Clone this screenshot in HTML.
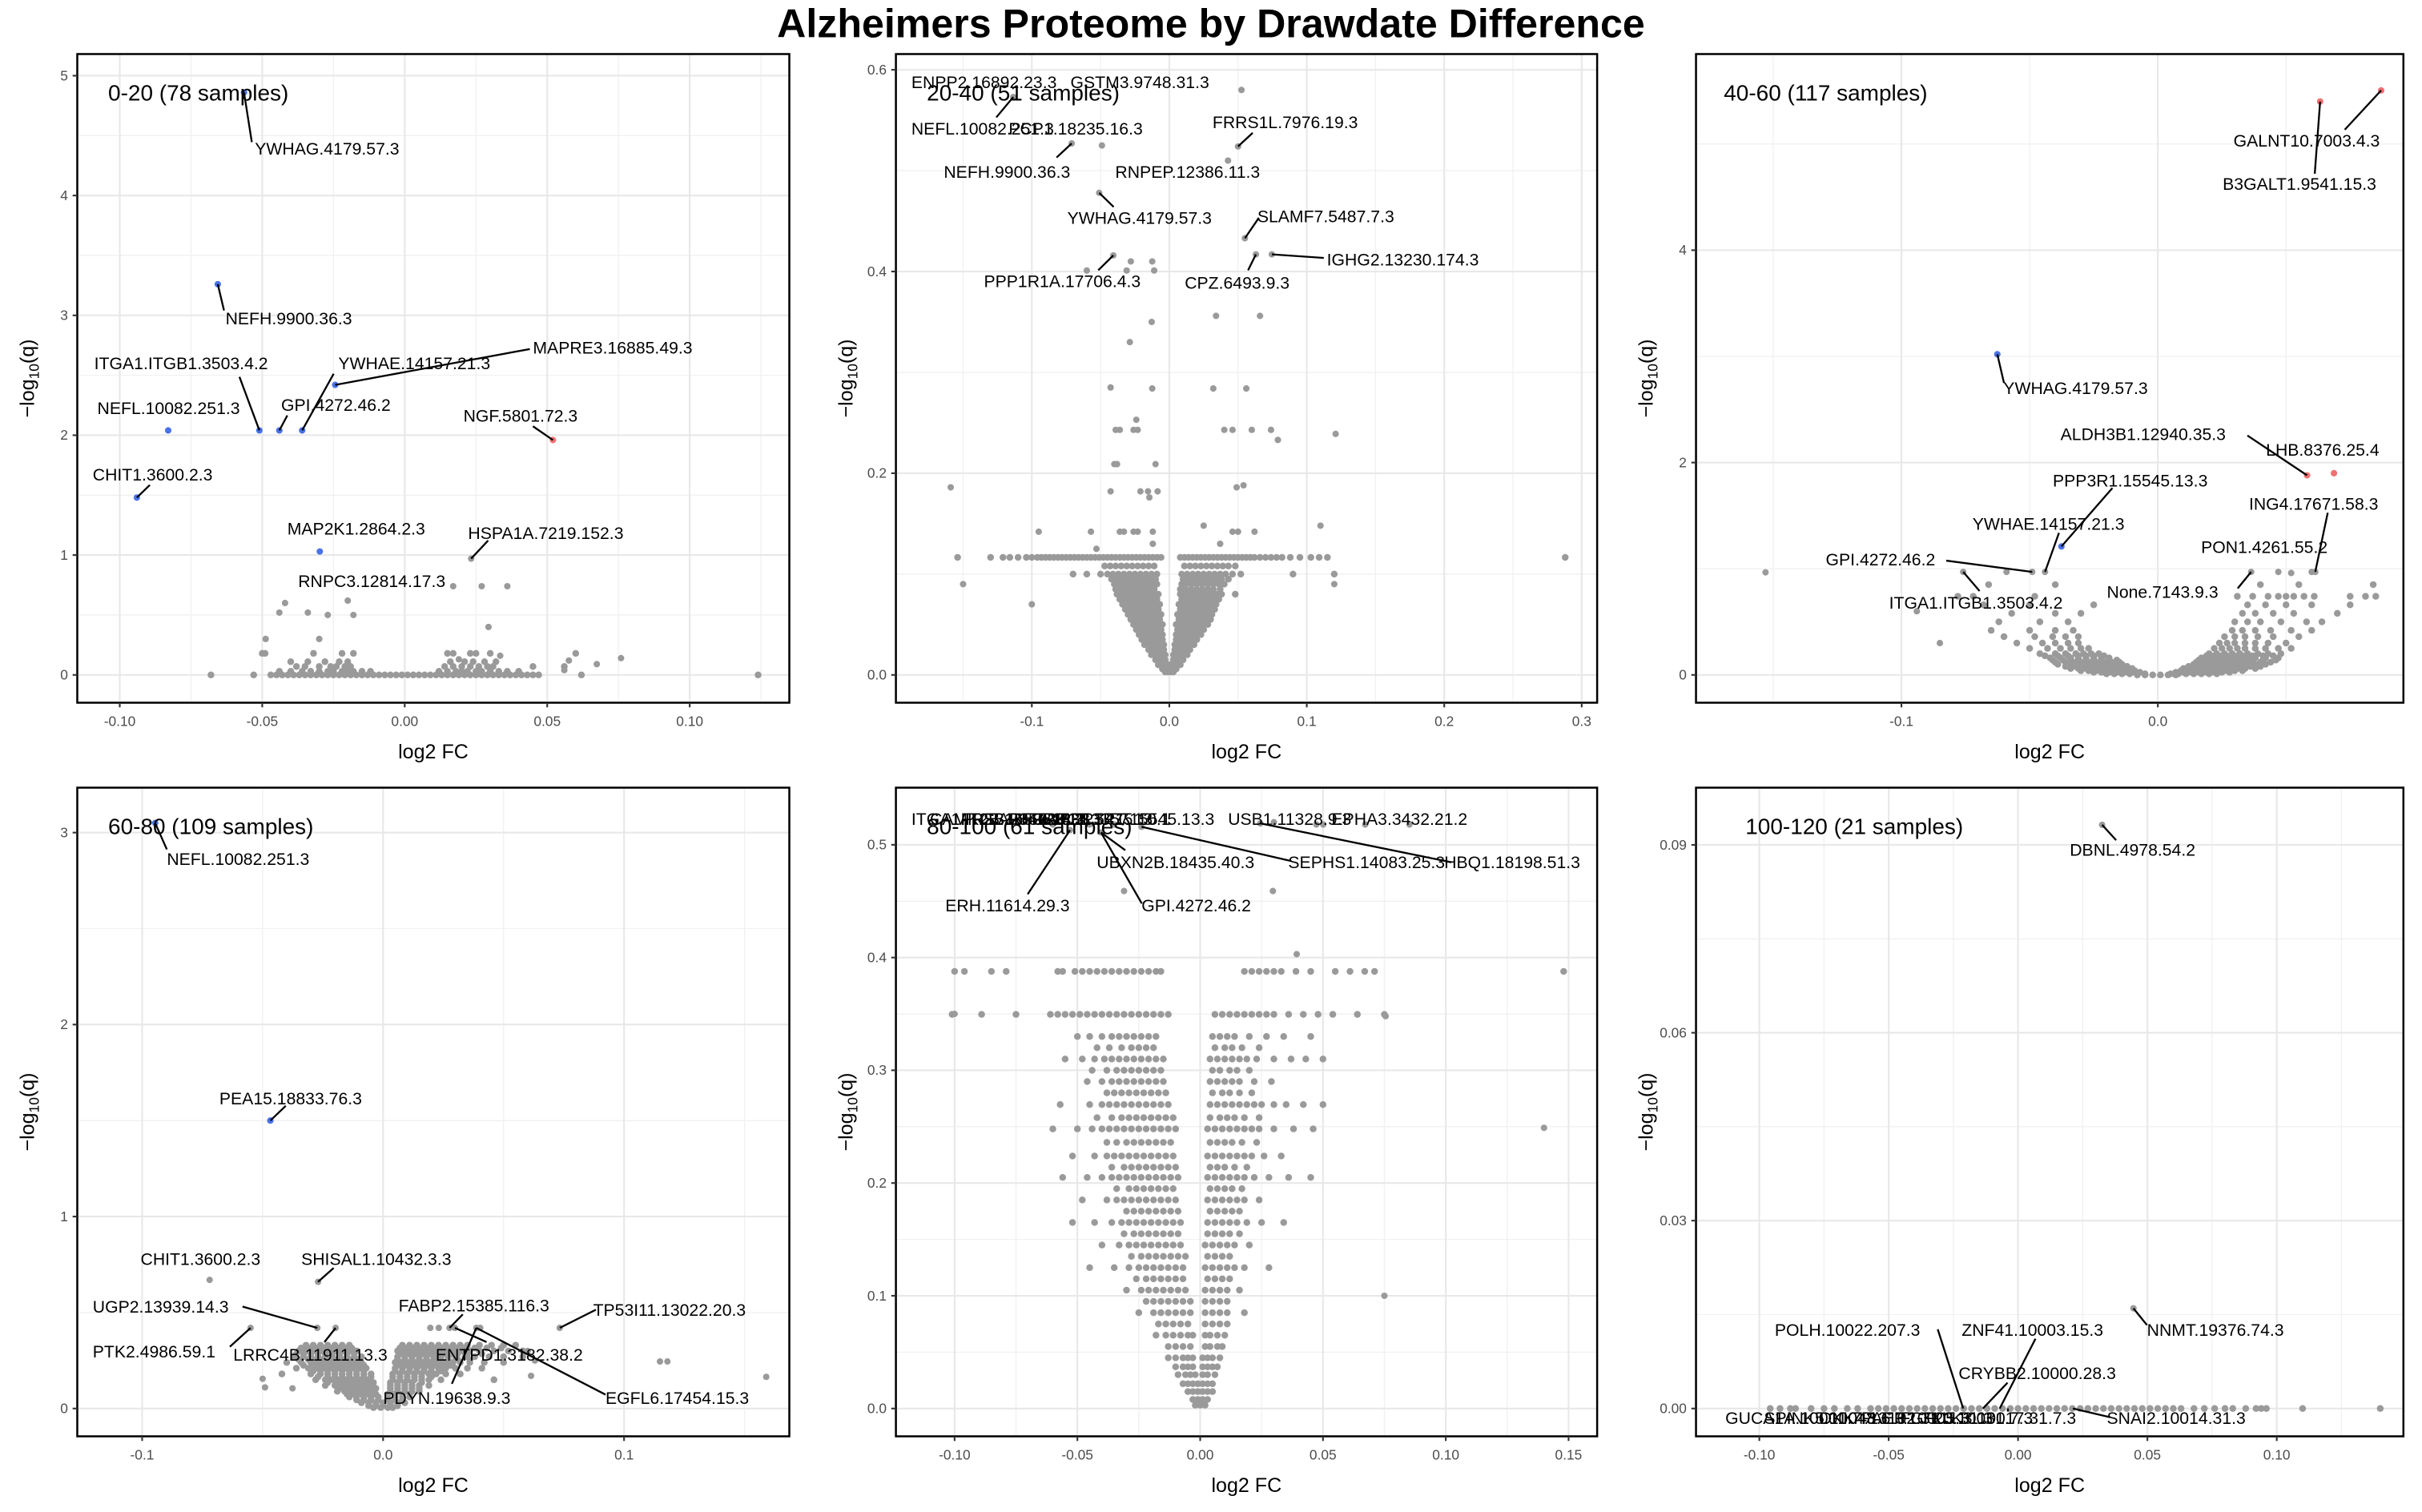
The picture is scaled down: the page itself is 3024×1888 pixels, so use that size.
<!DOCTYPE html>
<html><head><meta charset="utf-8"><title>Alzheimers Proteome by Drawdate Difference</title>
<style>
html,body{margin:0;padding:0;background:#fff;}
svg{display:block;font-family:"Liberation Sans",Arial,sans-serif;}
</style></head>
<body>
<svg id="chart" width="3024" height="1888" viewBox="0 0 1568 979" xmlns="http://www.w3.org/2000/svg">
<rect x="0" y="0" width="1568" height="979" fill="#fff"/>
<text x="784" y="24" text-anchor="middle" font-size="26" font-weight="bold" fill="#000">Alzheimers Proteome by Drawdate Difference</text>
</svg>
<script>
// ---------------- DATA ----------------
// Panel 1: 0-20
const p1Rows = [
[0,[-0.068,-0.053,-0.047,-0.045,-0.043,-0.041,-0.039,-0.037,-0.035,-0.033,-0.031,-0.029,-0.027,-0.025,-0.023,-0.021,-0.019,-0.017,-0.015,-0.013,-0.011,-0.009,-0.007,-0.005,-0.003,-0.001,0.001,0.003,0.005,0.007,0.009,0.011,0.013,0.015,0.017,0.019,0.021,0.023,0.025,0.027,0.029,0.031,0.033,0.035,0.037,0.039,0.041,0.043,0.045,0.047,0.062,0.124]],
[0.03,[-0.044,-0.04,-0.036,-0.033,-0.03,-0.027,-0.025,-0.022,-0.02,-0.018,-0.015,-0.012,0.012,0.015,0.018,0.02,0.022,0.025,0.027,0.03,0.033,0.036,0.04]],
[0.07,[-0.038,-0.035,-0.03,-0.026,-0.024,-0.021,-0.019,0.014,0.017,0.02,0.023,0.026,0.029,0.031,0.045,0.056]],
[0.11,[-0.04,-0.034,-0.028,-0.023,-0.02,0.016,0.021,0.024,0.028,0.032]],
[0.18,[-0.05,-0.049,-0.032,-0.022,-0.018,0.015,0.017,0.023,0.025,0.03,0.06]]
];
const p1Pts = [[-0.0488,0.3],[-0.03,0.3],[0.0294,0.4],[-0.044,0.52],[-0.034,0.52],[-0.027,0.5],[-0.018,0.5],[-0.042,0.6],[-0.02,0.62],[0.017,0.74],[0.027,0.74],[0.036,0.74],[0.0576,0.12],[0.0674,0.09],[0.0759,0.14],[0.0335,0.16],[0.019,0.13],[0.056,0.04],[0.0233,0.97]];
const p1Blue = [[-0.0564,4.86],[-0.0656,3.26],[-0.051,2.04],[-0.083,2.04],[-0.044,2.04],[-0.036,2.04],[-0.0244,2.42],[-0.094,1.48],[-0.0298,1.03]];
const p1Red = [[0.052,1.96]];
const p1Labels = [
["YWHAG.4179.57.3",165,96,163,92,-0.0564,4.86],
["NEFH.9900.36.3",146,206,145,201,-0.0656,3.26],
["ITGA1.ITGB1.3503.4.2",61,235,155,244,-0.051,2.04],
["NEFL.10082.251.3",63,264,null],
["GPI.4272.46.2",182,262,186,269,-0.044,2.04],
["YWHAE.14157.21.3",219,235,216,242,-0.036,2.04],
["MAPRE3.16885.49.3",345,225,343,226,-0.0244,2.42],
["NGF.5801.72.3",300,269,345,276,0.052,1.96],
["CHIT1.3600.2.3",60,307,97,314,-0.094,1.48],
["MAP2K1.2864.2.3",186,342,null],
["HSPA1A.7219.152.3",303,345,316,350,0.0233,0.97],
["RNPC3.12814.17.3",193,376,null]
];
const p1XTicks = [-0.1,-0.05,0,0.05,0.1];
const p1XLabels = ["-0.10","-0.05","0.00","0.05","0.10"];
const p1YTicks = [0,1,2,3,4,5];
const p1YLabels = ["0","1","2","3","4","5"];

// Panel 2: 20-40
const p2Rows = [
[0.1165,[-0.154,-0.13,-0.121,-0.116,-0.11,-0.104,-0.1,-0.096,-0.093,-0.09,-0.087,-0.084,-0.081,-0.078,-0.075,-0.072,-0.069,-0.066,-0.063,-0.06,-0.057,-0.054,-0.051,-0.048,-0.045,-0.042,-0.039,-0.036,-0.033,-0.03,-0.027,-0.024,-0.021,-0.018,-0.015,-0.012,-0.009,-0.006,0.008,0.011,0.014,0.017,0.02,0.023,0.026,0.029,0.032,0.035,0.038,0.041,0.044,0.047,0.05,0.053,0.056,0.059,0.062,0.066,0.07,0.074,0.078,0.082,0.088,0.095,0.103,0.109,0.115,0.288]],
[0.1,[-0.07,-0.06,-0.05,-0.045,-0.041,-0.037,-0.033,-0.029,-0.025,-0.021,-0.017,-0.013,-0.009,0.009,0.013,0.017,0.021,0.025,0.029,0.033,0.037,0.041,0.046,0.052,0.09,0.12]],
[0.108,[-0.047,-0.043,-0.039,-0.035,-0.031,-0.027,-0.023,-0.019,-0.015,-0.011,0.011,0.015,0.019,0.023,0.027,0.031,0.035,0.039,0.043,0.048]],
[0.095,[-0.042,-0.038,-0.034,-0.03,-0.026,-0.022,-0.018,-0.014,-0.01,0.01,0.014,0.018,0.022,0.026,0.03,0.034,0.038,0.043]],
[0.09,[-0.04,-0.036,-0.032,-0.028,-0.024,-0.02,-0.016,-0.012,-0.009,0.009,0.012,0.016,0.02,0.024,0.028,0.032,0.036,0.04]],
[0.085,[-0.039,-0.035,-0.031,-0.027,-0.023,-0.019,-0.015,-0.011,0.008,0.012,0.016,0.02,0.024,0.028,0.032,0.037]],
[0.08,[-0.038,-0.034,-0.03,-0.026,-0.022,-0.018,-0.014,-0.011,-0.008,0.008,0.011,0.014,0.018,0.022,0.026,0.03,0.034,0.038,0.048]],
[0.075,[-0.036,-0.032,-0.028,-0.024,-0.02,-0.016,-0.012,-0.009,0.009,0.012,0.016,0.02,0.024,0.028,0.032,0.036]],
[0.07,[-0.034,-0.03,-0.026,-0.022,-0.019,-0.016,-0.013,-0.01,-0.007,0.007,0.01,0.013,0.016,0.019,0.022,0.026,0.03,0.034]],
[0.065,[-0.032,-0.028,-0.024,-0.02,-0.017,-0.014,-0.011,-0.008,0.008,0.011,0.014,0.017,0.021,0.025,0.029,0.033]],
[0.06,[-0.03,-0.026,-0.023,-0.02,-0.017,-0.014,-0.011,-0.008,-0.006,0.006,0.008,0.011,0.014,0.017,0.02,0.023,0.027,0.031]],
[0.055,[-0.028,-0.024,-0.021,-0.018,-0.015,-0.012,-0.009,-0.007,0.007,0.01,0.013,0.016,0.019,0.022,0.026,0.03]],
[0.05,[-0.026,-0.023,-0.02,-0.017,-0.014,-0.011,-0.008,-0.005,0.005,0.008,0.011,0.014,0.017,0.02,0.024,0.028]],
[0.045,[-0.024,-0.021,-0.018,-0.015,-0.012,-0.009,-0.006,0.006,0.009,0.012,0.015,0.018,0.021,0.025]],
[0.04,[-0.022,-0.019,-0.016,-0.013,-0.01,-0.007,-0.005,0.005,0.007,0.01,0.013,0.016,0.019,0.023]],
[0.035,[-0.02,-0.017,-0.014,-0.011,-0.008,-0.005,0.005,0.008,0.011,0.014,0.017,0.02]],
[0.03,[-0.018,-0.015,-0.012,-0.009,-0.007,-0.004,0.004,0.007,0.009,0.012,0.015,0.018]],
[0.025,[-0.015,-0.012,-0.009,-0.006,-0.004,0.004,0.006,0.009,0.012,0.015]],
[0.02,[-0.013,-0.01,-0.008,-0.005,-0.003,0.003,0.005,0.008,0.01,0.013]],
[0.015,[-0.01,-0.007,-0.005,-0.003,0.003,0.005,0.007,0.01]],
[0.01,[-0.008,-0.006,-0.004,-0.002,0,0.002,0.004,0.006,0.008]],
[0.006,[-0.005,-0.003,-0.001,0.001,0.003,0.005]],
[0.003,[-0.003,-0.001,0.001,0.003]]
];
const p2Pts = [[-0.15,0.09],[-0.1,0.07],[0.12,0.09],[-0.095,0.142],[-0.057,0.142],[-0.036,0.142],[-0.033,0.142],[-0.026,0.142],[-0.023,0.142],[-0.012,0.142],[-0.012,0.13],[0.025,0.148],[0.037,0.13],[0.046,0.142],[0.05,0.142],[0.062,0.142],[0.11,0.148],[-0.053,0.125],
[-0.159,0.186],[-0.0427,0.182],[-0.021,0.182],[-0.0155,0.182],[-0.0085,0.182],[-0.0145,0.176],[0.049,0.186],[0.054,0.188],
[-0.04,0.209],[-0.038,0.209],[-0.01,0.209],[-0.039,0.243],[-0.036,0.243],[-0.026,0.243],[-0.023,0.243],[-0.024,0.253],[0.04,0.243],[0.046,0.243],[0.06,0.243],[0.074,0.243],[0.079,0.233],[0.121,0.239],
[-0.0427,0.285],[-0.0124,0.284],[0.032,0.284],[0.056,0.284],[-0.0287,0.33],[-0.0128,0.35],[0.034,0.356],[0.066,0.356],
[-0.028,0.41],[-0.0124,0.41],[-0.06,0.401],[-0.031,0.401],[-0.011,0.401],[-0.0407,0.416],[0.063,0.417],[0.0746,0.417],[0.055,0.433],
[-0.051,0.478],[0.0427,0.51],[-0.071,0.527],[-0.049,0.525],[0.05,0.524],[0.0525,0.58],[-0.1135,0.573]];
const p2Labels = [
["ENPP2.16892.23.3",590,53,null],
["GSTM3.9748.31.3",693,53,null],
["NEFL.10082.251.3",590,83,645,76,-0.1135,0.573],
["PCP1.18235.16.3",653,83,null],
["NEFH.9900.36.3",611,111,684,102,-0.071,0.527],
["FRRS1L.7976.19.3",785,79,811,86,0.05,0.524],
["RNPEP.12386.11.3",722,111,null],
["YWHAG.4179.57.3",691,141,721,134,-0.051,0.478],
["SLAMF7.5487.7.3",814,140,815,141,0.055,0.433],
["IGHG2.13230.174.3",859,168,857,167,0.0746,0.417],
["CPZ.6493.9.3",767,183,808,175,0.063,0.417],
["PPP1R1A.17706.4.3",637,182,711,175,-0.0407,0.416]
];
const p2XTicks = [-0.1,0,0.1,0.2,0.3];
const p2XLabels = ["-0.1","0.0","0.1","0.2","0.3"];
const p2YTicks = [0,0.2,0.4,0.6];
const p2YLabels = ["0.0","0.2","0.4","0.6"];

// Panel 3: 40-60
const p3Rows = [
[0,[-0.008,-0.005,-0.002,0.001,0.004,0.007]],
[0.01,[-0.02,-0.017,-0.014,-0.011,-0.008,-0.005,0.005,0.008,0.011,0.014,0.017,0.02,0.023]],
[0.025,[-0.025,-0.022,-0.019,-0.016,-0.013,-0.01,-0.007,0.007,0.01,0.013,0.016,0.019,0.022,0.025,0.028]],
[0.04,[-0.03,-0.027,-0.024,-0.021,-0.018,-0.015,-0.012,-0.009,0.009,0.012,0.015,0.018,0.021,0.024,0.027,0.03,0.033]],
[0.06,[-0.034,-0.031,-0.028,-0.025,-0.022,-0.019,-0.016,-0.013,-0.01,0.01,0.013,0.016,0.019,0.022,0.025,0.028,0.031,0.034,0.038]],
[0.08,[-0.036,-0.033,-0.03,-0.027,-0.024,-0.021,-0.018,-0.015,-0.012,0.012,0.015,0.018,0.021,0.024,0.027,0.03,0.033,0.036,0.04]],
[0.1,[-0.039,-0.035,-0.032,-0.029,-0.026,-0.023,-0.02,-0.017,-0.014,0.014,0.017,0.02,0.023,0.026,0.029,0.032,0.035,0.038,0.042]],
[0.12,[-0.04,-0.036,-0.033,-0.03,-0.027,-0.024,-0.021,-0.018,-0.015,0.015,0.018,0.021,0.024,0.027,0.03,0.033,0.036,0.04,0.044]],
[0.14,[-0.041,-0.037,-0.034,-0.031,-0.028,-0.025,-0.022,-0.019,-0.016,0.016,0.019,0.022,0.025,0.028,0.031,0.034,0.037,0.041,0.046]],
[0.16,[-0.042,-0.038,-0.034,-0.031,-0.028,-0.025,-0.022,-0.019,0.017,0.02,0.023,0.026,0.029,0.032,0.035,0.038,0.042,0.047]],
[0.18,[-0.044,-0.039,-0.035,-0.031,-0.028,-0.025,-0.021,0.019,0.022,0.025,0.028,0.031,0.034,0.037,0.041,0.045]],
[0.2,[-0.046,-0.04,-0.036,-0.032,-0.029,-0.026,-0.023,0.02,0.023,0.026,0.029,0.032,0.035,0.039,0.043,0.048]],
[0.25,[-0.05,-0.043,-0.038,-0.034,-0.03,-0.027,0.022,0.025,0.028,0.031,0.034,0.038,0.042,0.047,0.052]],
[0.3,[-0.055,-0.045,-0.04,-0.035,-0.031,0.024,0.027,0.03,0.034,0.038,0.043,0.05]],
[0.36,[-0.06,-0.048,-0.041,-0.036,-0.031,0.026,0.03,0.034,0.039,0.045,0.055]],
[0.42,[-0.065,-0.05,-0.04,-0.033,0.029,0.033,0.038,0.044,0.052,0.06]],
[0.5,[-0.062,-0.046,-0.035,0.03,0.035,0.04,0.048,0.058,0.064]],
[0.58,[-0.057,-0.04,-0.03,0.033,0.038,0.045,0.053,0.07]],
[0.66,[-0.068,-0.05,-0.025,0.035,0.042,0.05,0.06,0.075]],
[0.74,[-0.078,-0.072,-0.048,0.031,0.037,0.043,0.047,0.05,0.053,0.057,0.061,0.075,0.081,0.085]],
[0.85,[-0.066,-0.04,0.04,0.055,0.084]]
];
const p3Pts = [[-0.153,0.966],[-0.059,0.97],[0.047,0.97],[0.052,0.96],[0.06,0.97],[-0.049,0.97],[-0.044,0.97],[-0.0759,0.97],[0.0614,0.97],[0.0364,0.97],[-0.094,0.6],[-0.085,0.3]];
const p3Blue = [[-0.0626,3.02],[-0.0376,1.21]];
const p3Red = [[0.0871,5.505],[0.0633,5.4],[0.0582,1.88],[0.0687,1.9]];
const p3Labels = [
["GALNT10.7003.4.3",1446,91,1518,84,0.0871,5.505],
["B3GALT1.9541.15.3",1439,119,1498.6,112.5,0.0633,5.4],
["YWHAG.4179.57.3",1297,251,1297.4,248,-0.0626,3.02],
["ALDH3B1.12940.35.3",1334,281,1455,282,0.0582,1.88],
["LHB.8376.25.4",1467,291,null],
["PPP3R1.15545.13.3",1329,311,1367.6,316,-0.0376,1.21],
["ING4.17671.58.3",1456,326,1507,332,0.0614,0.97],
["YWHAE.14157.21.3",1277,339,1333,345,-0.044,0.97],
["PON1.4261.55.2",1425,354,null],
["GPI.4272.46.2",1182,362,1260,363,-0.049,0.97],
["None.7143.9.3",1364,383,1448.7,381,0.0364,0.97],
["ITGA1.ITGB1.3503.4.2",1223,390,1281.6,382.7,-0.0759,0.97]
];
const p3XTicks = [-0.1,0];
const p3XLabels = ["-0.1","0.0"];
const p3YTicks = [0,2,4];
const p3YLabels = ["0","2","4"];

// Panel 4: 60-80
const p4Rows = [
[0.33,[-0.032,-0.029,-0.026,-0.023,-0.02,-0.017,-0.014,0.008,0.011,0.014,0.017,0.02,0.023,0.026,0.029,0.032,0.035,0.04,0.045,0.05,0.055]],
[0.315,[-0.034,-0.031,-0.028,-0.025,-0.022,-0.019,-0.016,-0.013,0.007,0.01,0.013,0.016,0.019,0.022,0.025,0.028,0.031,0.034,0.038,0.043,0.049]],
[0.3,[-0.035,-0.032,-0.029,-0.026,-0.023,-0.02,-0.017,-0.014,-0.011,0.006,0.009,0.012,0.015,0.018,0.021,0.024,0.027,0.03,0.033,0.036,0.04,0.046,0.052,0.058]],
[0.285,[-0.036,-0.033,-0.03,-0.027,-0.024,-0.021,-0.018,-0.015,-0.012,0.007,0.01,0.013,0.016,0.019,0.022,0.025,0.028,0.031,0.035,0.041]],
[0.27,[-0.037,-0.033,-0.03,-0.027,-0.024,-0.021,-0.018,-0.015,-0.012,-0.009,0.006,0.009,0.012,0.015,0.018,0.021,0.024,0.027,0.03,0.034,0.038,0.044,0.05,0.058]],
[0.255,[-0.035,-0.031,-0.028,-0.025,-0.022,-0.019,-0.016,-0.013,-0.01,0.006,0.009,0.012,0.015,0.018,0.021,0.024,0.027,0.031,0.036]],
[0.24,[-0.04,-0.034,-0.03,-0.027,-0.024,-0.021,-0.018,-0.015,-0.012,-0.009,0.005,0.008,0.011,0.014,0.017,0.02,0.023,0.026,0.029,0.032,0.036,0.042,0.05]],
[0.225,[-0.033,-0.029,-0.026,-0.023,-0.02,-0.017,-0.014,-0.011,-0.008,0.006,0.009,0.012,0.015,0.018,0.021,0.024,0.028]],
[0.21,[-0.036,-0.031,-0.028,-0.025,-0.022,-0.019,-0.016,-0.013,-0.01,-0.007,0.005,0.008,0.011,0.014,0.017,0.02,0.023,0.026,0.03,0.035,0.041]],
[0.195,[-0.029,-0.026,-0.023,-0.02,-0.017,-0.014,-0.011,-0.008,0.005,0.008,0.011,0.014,0.017,0.02,0.024]],
[0.18,[-0.042,-0.03,-0.026,-0.023,-0.02,-0.017,-0.014,-0.011,-0.008,-0.005,0.004,0.007,0.01,0.013,0.016,0.019,0.022,0.026,0.032]],
[0.165,[-0.027,-0.023,-0.02,-0.017,-0.014,-0.011,-0.008,-0.005,0.004,0.007,0.01,0.013,0.016,0.02]],
[0.15,[-0.028,-0.024,-0.021,-0.018,-0.015,-0.012,-0.009,-0.006,0.004,0.007,0.01,0.013,0.016,0.019,0.024,0.046]],
[0.135,[-0.023,-0.019,-0.016,-0.013,-0.01,-0.007,-0.004,0.003,0.006,0.009,0.012,0.016]],
[0.12,[-0.024,-0.02,-0.017,-0.014,-0.011,-0.008,-0.005,0.003,0.006,0.009,0.012,0.015,0.019]],
[0.105,[-0.018,-0.015,-0.012,-0.009,-0.006,-0.003,0.003,0.006,0.009,0.012,0.015]],
[0.09,[-0.019,-0.016,-0.013,-0.01,-0.007,-0.004,0.003,0.006,0.009,0.012,0.015]],
[0.075,[-0.015,-0.012,-0.009,-0.006,-0.003,0.002,0.005,0.008,0.011]],
[0.06,[-0.014,-0.011,-0.008,-0.005,-0.002,0.002,0.005,0.008,0.011]],
[0.045,[-0.011,-0.008,-0.005,-0.002,0.002,0.005,0.008]],
[0.03,[-0.009,-0.006,-0.003,0,0.003,0.006,0.009]],
[0.015,[-0.006,-0.003,0,0.003,0.006]],
[0.005,[-0.004,-0.001,0.002,0.004]]
];
const p4Pts = [[-0.05,0.155],[-0.049,0.11],[-0.0376,0.105],[0.159,0.165],[0.1149,0.245],[0.118,0.245],[0.0614,0.17],[0.046,0.15],[-0.072,0.67],[-0.027,0.66],[-0.0273,0.42],[-0.0197,0.42],[-0.055,0.42],[0.0276,0.42],[0.0733,0.42],[0.0387,0.42],[0.0196,0.42],[0.0231,0.42],[0.0298,0.42],[0.0403,0.42],[0.063,0.25],[0.06,0.3]];
const p4Blue = [[-0.0946,3.05],[-0.0468,1.5]];
const p4Labels = [
["NEFL.10082.251.3",108,556,108,550,-0.0946,3.05],
["PEA15.18833.76.3",142,711,185,716,-0.0468,1.5],
["CHIT1.3600.2.3",91,815,null],
["SHISAL1.10432.3.3",195,815,216,821,-0.027,0.66],
["UGP2.13939.14.3",60,846,157,846,-0.0273,0.42],
["FABP2.15385.116.3",258,845,299.6,851,0.0276,0.42],
["TP53I11.13022.20.3",384,848,385.8,848,0.0733,0.42],
["PTK2.4986.59.1",60,875,148.8,872,-0.055,0.42],
["LRRC4B.11911.13.3",151,877,210,869,-0.0197,0.42],
["ENTPD1.3182.38.2",282,877,315,869,0.0298,0.42],
["PDYN.19638.9.3",248,905,292.5,896,0.0387,0.42],
["EGFL6.17454.15.3",392,905,392,903,0.0387,0.42]
];
const p4XTicks = [-0.1,0,0.1];
const p4XLabels = ["-0.1","0.0","0.1"];
const p4YTicks = [0,1,2,3];
const p4YLabels = ["0","1","2","3"];

// Panel 5: 80-100
const p5Rows = [
[0.3877,[-0.1,-0.096,-0.085,-0.079,-0.058,-0.056,-0.051,-0.048,-0.045,-0.042,-0.039,-0.036,-0.033,-0.03,-0.027,-0.024,-0.021,-0.018,-0.016,0.018,0.021,0.024,0.027,0.03,0.033,0.039,0.045,0.055,0.061,0.067,0.071,0.148]],
[0.3496,[-0.101,-0.089,-0.075,-0.061,-0.058,-0.055,-0.052,-0.049,-0.046,-0.043,-0.04,-0.037,-0.034,-0.031,-0.028,-0.025,-0.022,-0.019,-0.016,-0.013,0.006,0.009,0.012,0.015,0.018,0.021,0.024,0.027,0.03,0.036,0.042,0.048,0.054,0.064,0.075]],
[0.33,[-0.05,-0.045,-0.04,-0.036,-0.033,-0.03,-0.027,-0.024,-0.021,-0.018,0.005,0.008,0.011,0.014,0.02,0.027,0.034,0.045]],
[0.32,[-0.042,-0.037,-0.032,-0.028,-0.025,-0.022,-0.019,0.006,0.01,0.013,0.017,0.024]],
[0.31,[-0.055,-0.048,-0.043,-0.039,-0.036,-0.033,-0.03,-0.027,-0.024,-0.021,-0.018,-0.015,0.004,0.007,0.01,0.013,0.016,0.019,0.023,0.03,0.037,0.043,0.05]],
[0.3,[-0.044,-0.038,-0.034,-0.031,-0.028,-0.025,-0.022,-0.019,-0.016,0.005,0.008,0.012,0.015,0.02]],
[0.29,[-0.046,-0.04,-0.036,-0.033,-0.03,-0.027,-0.024,-0.021,-0.018,-0.015,0.004,0.007,0.01,0.013,0.016,0.022,0.029]],
[0.28,[-0.038,-0.035,-0.032,-0.029,-0.026,-0.023,-0.02,-0.017,-0.014,0.005,0.009,0.012,0.016,0.021]],
[0.2696,[-0.057,-0.045,-0.04,-0.037,-0.034,-0.031,-0.028,-0.025,-0.022,-0.019,-0.016,-0.013,0.004,0.007,0.01,0.013,0.016,0.019,0.022,0.025,0.03,0.035,0.042,0.05]],
[0.258,[-0.042,-0.036,-0.032,-0.029,-0.026,-0.023,-0.02,-0.017,-0.014,-0.011,0.004,0.008,0.011,0.014,0.018,0.024]],
[0.248,[-0.06,-0.05,-0.044,-0.04,-0.037,-0.034,-0.031,-0.028,-0.025,-0.022,-0.019,-0.016,-0.013,-0.01,0.003,0.006,0.009,0.012,0.015,0.018,0.021,0.024,0.03,0.038,0.046]],
[0.236,[-0.038,-0.034,-0.03,-0.027,-0.024,-0.021,-0.018,-0.015,-0.012,0.004,0.007,0.01,0.013,0.017,0.023]],
[0.224,[-0.052,-0.043,-0.038,-0.035,-0.032,-0.029,-0.026,-0.023,-0.02,-0.017,-0.014,-0.011,0.003,0.006,0.009,0.012,0.015,0.018,0.021,0.026,0.033]],
[0.214,[-0.036,-0.031,-0.028,-0.025,-0.022,-0.019,-0.016,-0.013,-0.01,0.004,0.007,0.01,0.014,0.019]],
[0.205,[-0.056,-0.046,-0.04,-0.036,-0.033,-0.03,-0.027,-0.024,-0.021,-0.018,-0.015,-0.012,-0.009,0.003,0.006,0.009,0.012,0.015,0.018,0.022,0.028,0.036,0.045]],
[0.195,[-0.034,-0.029,-0.026,-0.023,-0.02,-0.017,-0.014,-0.011,0.004,0.007,0.01,0.013,0.017]],
[0.185,[-0.048,-0.038,-0.034,-0.031,-0.028,-0.025,-0.022,-0.019,-0.016,-0.013,-0.01,0.003,0.006,0.009,0.012,0.015,0.018,0.024]],
[0.175,[-0.03,-0.027,-0.024,-0.021,-0.018,-0.015,-0.012,-0.009,0.004,0.007,0.01,0.013,0.016]],
[0.165,[-0.052,-0.043,-0.036,-0.032,-0.029,-0.026,-0.023,-0.02,-0.017,-0.014,-0.011,-0.008,0.003,0.006,0.009,0.012,0.015,0.019,0.025,0.034]],
[0.155,[-0.031,-0.027,-0.024,-0.021,-0.018,-0.015,-0.012,-0.009,0.003,0.006,0.009,0.012,0.016]],
[0.145,[-0.04,-0.033,-0.029,-0.026,-0.023,-0.02,-0.017,-0.014,-0.011,-0.008,0.002,0.005,0.008,0.011,0.014,0.02]],
[0.135,[-0.028,-0.024,-0.021,-0.018,-0.015,-0.012,-0.009,-0.006,0.003,0.006,0.009,0.012]],
[0.125,[-0.045,-0.035,-0.029,-0.025,-0.022,-0.019,-0.016,-0.013,-0.01,-0.007,0.002,0.005,0.008,0.011,0.014,0.018,0.028]],
[0.115,[-0.026,-0.022,-0.019,-0.016,-0.013,-0.01,-0.007,0.003,0.006,0.009,0.012]],
[0.105,[-0.03,-0.024,-0.021,-0.018,-0.015,-0.012,-0.009,-0.006,0.002,0.005,0.008,0.011,0.016]],
[0.095,[-0.022,-0.019,-0.016,-0.013,-0.01,-0.007,-0.004,0.002,0.005,0.008,0.011]],
[0.085,[-0.025,-0.019,-0.016,-0.013,-0.01,-0.007,-0.004,0.002,0.005,0.008,0.011,0.018]],
[0.075,[-0.017,-0.014,-0.011,-0.008,-0.005,0.002,0.005,0.008,0.011]],
[0.065,[-0.018,-0.014,-0.011,-0.008,-0.005,-0.003,0.002,0.004,0.007,0.01]],
[0.055,[-0.013,-0.01,-0.007,-0.004,0.002,0.004,0.007,0.009]],
[0.045,[-0.013,-0.01,-0.007,-0.005,-0.003,0.001,0.003,0.005,0.008]],
[0.037,[-0.01,-0.007,-0.005,-0.003,0.001,0.003,0.005,0.007]],
[0.03,[-0.009,-0.006,-0.004,-0.002,0.001,0.003,0.006]],
[0.022,[-0.007,-0.005,-0.003,-0.001,0.001,0.003,0.005]],
[0.015,[-0.005,-0.003,-0.001,0.001,0.003,0.005]],
[0.008,[-0.003,-0.001,0.001,0.003]],
[0.003,[-0.002,0,0.002]]
];
const p5Pts = [[-0.031,0.459],[0.0296,0.459],[0.0473,0.518],[0.0501,0.518],[0.0672,0.518],[0.0852,0.518],[0.0393,0.403],[0.075,0.1],[0.14,0.249],[0.0755,0.348],[-0.1,0.35],[-0.0404,0.511],[-0.0239,0.516],[0.0245,0.519],[-0.053,0.513],[-0.045,0.518],[-0.035,0.518],[-0.06,0.518],[0.03,0.52]];
const p5Labels = [
["ITGA1.ITGB1.3503.4.2",590,530,null],
["CAMK2B.16596.3.3",602,530,null],
["FRS3.9847.15.3",622,530,null],
["ARFGAP1.13357.13",646,530,null],
["PRKCB.5475.10.1",668,530,null],
["PPP3R1.15545.13.3",686,530,null],
["USB1.11328.9.3",795,530,null],
["EPHA3.3432.21.2",862,530,null],
["UBXN2B.18435.40.3",710,558,728.5,550.5,-0.0404,0.511],
["SEPHS1.14083.25.3",834,558,835.6,557.4,-0.0239,0.516],
["HBQ1.18198.51.3",935,558,939.6,558.3,0.0245,0.519],
["ERH.11614.29.3",612,586,665.3,579,-0.053,0.513],
["GPI.4272.46.2",739,586,739.2,585,-0.0404,0.511]
];
const p5XTicks = [-0.1,-0.05,0,0.05,0.1,0.15];
const p5XLabels = ["-0.10","-0.05","0.00","0.05","0.10","0.15"];
const p5YTicks = [0,0.1,0.2,0.3,0.4,0.5];
const p5YLabels = ["0.0","0.1","0.2","0.3","0.4","0.5"];

// Panel 6: 100-120
const p6Rows = [
[0,[-0.0958,-0.092,-0.088,-0.086,-0.08,-0.075,-0.071,-0.066,-0.062,-0.057,-0.054,-0.051,-0.048,-0.045,-0.042,-0.039,-0.036,-0.033,-0.03,-0.027,-0.024,-0.021,-0.018,-0.015,-0.012,-0.009,-0.006,-0.003,0,0.003,0.006,0.009,0.012,0.015,0.018,0.021,0.024,0.027,0.03,0.033,0.036,0.039,0.042,0.045,0.048,0.051,0.054,0.057,0.06,0.063,0.068,0.072,0.076,0.08,0.083,0.088,0.092,0.094,0.096,0.11,0.14]]
];
const p6Pts = [[0.0325,0.0932],[0.0446,0.016]];
const p6Labels = [
["DBNL.4978.54.2",1340,550,1370,544,0.0325,0.0932],
["POLH.10022.207.3",1149,861,1254.5,860.7,-0.0212,0],
["ZNF41.10003.15.3",1270,861,1317.8,866.8,-0.0071,0],
["NNMT.19376.74.3",1390,861,1390,858,0.0446,0.016],
["CRYBB2.10000.28.3",1268,889,1299.7,895.3,-0.0136,0],
["SNAI2.10014.31.3",1364,918,1366,917.6,0.0212,0],
["GUCA1A.10001.7.3",1117,918,null],
["SPINK5.10048.6.3",1142,918,null],
["DKK4.13102.31.3",1178,918,null],
["PAEP.10005.31.3",1205,918,null],
["FGF20.10031.7.3",1230,918,null],
["KLK3.10017.31.7.3",1250,918,1300,914,-0.004,0]
];
const p6XTicks = [-0.1,-0.05,0,0.05,0.1];
const p6XLabels = ["-0.10","-0.05","0.00","0.05","0.10"];
const p6YTicks = [0,0.03,0.06,0.09];
const p6YLabels = ["0.00","0.03","0.06","0.09"];

// ---------------- LAYOUT ----------------
const NS = "http://www.w3.org/2000/svg";
const svg = document.getElementById('chart');
function mk(tag, attrs, parent){
  const e = document.createElementNS(NS, tag);
  for (const k in attrs) e.setAttribute(k, attrs[k]);
  parent.appendChild(e);
  return e;
}
const panels = [
 {id:"0-20", title:"0-20 (78 samples)", box:[50,35,511,455], X0:262, KX:1845, Y0:437, KY:77.6, rows:p1Rows, pts:p1Pts, blue:p1Blue, red:p1Red, labels:p1Labels, xt:p1XTicks, xl:p1XLabels, yt:p1YTicks, yl:p1YLabels, tx:70},
 {id:"20-40", title:"20-40 (51 samples)", box:[580,35,1034,455], X0:757, KX:890, Y0:437, KY:653, rows:p2Rows, pts:p2Pts, blue:[], red:[], labels:p2Labels, xt:p2XTicks, xl:p2XLabels, yt:p2YTicks, yl:p2YLabels, tx:600},
 {id:"40-60", title:"40-60 (117 samples)", box:[1098,35,1556,455], X0:1397, KX:1660, Y0:437, KY:68.75, rows:p3Rows, pts:p3Pts, blue:p3Blue, red:p3Red, labels:p3Labels, xt:p3XTicks, xl:p3XLabels, yt:p3YTicks, yl:p3YLabels, tx:1116},
 {id:"60-80", title:"60-80 (109 samples)", box:[50,510,511,930], X0:248, KX:1560, Y0:912, KY:124.3, rows:p4Rows, pts:p4Pts, blue:p4Blue, red:[], labels:p4Labels, xt:p4XTicks, xl:p4XLabels, yt:p4YTicks, yl:p4YLabels, tx:70},
 {id:"80-100", title:"80-100 (61 samples)", box:[580,510,1034,930], X0:777, KX:1590, Y0:912, KY:730, rows:p5Rows, pts:p5Pts, blue:[], red:[], labels:p5Labels, xt:p5XTicks, xl:p5XLabels, yt:p5YTicks, yl:p5YLabels, tx:600},
 {id:"100-120", title:"100-120 (21 samples)", box:[1098,510,1556,930], X0:1306.5, KX:1675, Y0:912, KY:4055, rows:p6Rows, pts:p6Pts, blue:[], red:[], labels:p6Labels, xt:p6XTicks, xl:p6XLabels, yt:p6YTicks, yl:p6YLabels, tx:1130}
];

panels.forEach(function(p){
  const sx = v => p.X0 + v * p.KX;
  const sy = v => p.Y0 - v * p.KY;
  const [L,T,R,B] = p.box;
  const g = mk('g', {}, svg);
  
  
  // grid
  const grid = mk('g', {}, g);
  
  
  const xs = p.xt[1]-p.xt[0], ys = p.yt[1]-p.yt[0];
  const xMinor = [], yMinor = [];
  for (let i=-1;i<p.xt.length;i++){ const v = (i<0? p.xt[0]-xs/2 : p.xt[i]+xs/2); xMinor.push(v); }
  for (let i=-1;i<p.yt.length;i++){ const v = (i<0? p.yt[0]-ys/2 : p.yt[i]+ys/2); yMinor.push(v); }
  let extra = p.xt[p.xt.length-1]+xs;
  while (sx(extra) < R) { xMinor.push(extra+xs/2); const mj = mk('line',{x1:sx(extra),x2:sx(extra),y1:T,y2:B,stroke:'#e8e8e8','stroke-width':1.1},grid);   extra += xs; }
  let extraY = p.yt[p.yt.length-1]+ys;
  while (sy(extraY) > T) { yMinor.push(extraY+ys/2); const mj = mk('line',{x1:L,x2:R,y1:sy(extraY),y2:sy(extraY),stroke:'#e8e8e8','stroke-width':1.1},grid);   extraY += ys; }
  let lowX = p.xt[0]-xs;
  while (sx(lowX) > L) { xMinor.push(lowX-xs/2); const mj = mk('line',{x1:sx(lowX),x2:sx(lowX),y1:T,y2:B,stroke:'#e8e8e8','stroke-width':1.1},grid);   lowX -= xs; }
  xMinor.forEach(v => { const x = sx(v); if (x>L && x<R) { const l = mk('line',{x1:x,x2:x,y1:T,y2:B,stroke:'#f1f1f1','stroke-width':0.7},grid);   } });
  yMinor.forEach(v => { const y = sy(v); if (y>T && y<B) { const l = mk('line',{x1:L,x2:R,y1:y,y2:y,stroke:'#f1f1f1','stroke-width':0.7},grid);   } });
  p.xt.forEach(v => { const l = mk('line',{x1:sx(v),x2:sx(v),y1:T,y2:B,stroke:'#e8e8e8','stroke-width':1.1},grid);   });
  p.yt.forEach(v => { const l = mk('line',{x1:L,x2:R,y1:sy(v),y2:sy(v),stroke:'#e8e8e8','stroke-width':1.1},grid);   });

  // points
  const pg = mk('g', {fill:'#9a9a9a'}, g);
  
  
  p.rows.forEach(row => {
    row[1].forEach(xv => {
      const c = mk('circle',{cx:sx(xv),cy:sy(row[0]),r:2.2},pg);
      
      
    });
  });
  p.pts.forEach(pt => {
    const c = mk('circle',{cx:sx(pt[0]),cy:sy(pt[1]),r:2.1},pg);
    
    
  });
  p.blue.forEach(pt => {
    const c = mk('circle',{cx:sx(pt[0]),cy:sy(pt[1]),r:2.1,fill:'#4a72e8'},pg);
    
    
  });
  p.red.forEach(pt => {
    const c = mk('circle',{cx:sx(pt[0]),cy:sy(pt[1]),r:2.1,fill:'#f07070'},pg);
    
    
  });

  // labels
  const lg = mk('g', {}, g);
  
  
  p.labels.forEach(lb => {
    if (lb[3] !== null && lb[3] !== undefined) {
      const ln = mk('line',{x1:lb[3],y1:lb[4],x2:sx(lb[5]),y2:sy(lb[6]),stroke:'#000','stroke-width':1.2},lg);
      
      
    }
    const t = mk('text',{x:lb[1],y:lb[2]+4,'font-size':11,fill:'#000'},lg);
    t.textContent = lb[0];
    
    
  });

  // panel title
  const tt = mk('text',{x:p.tx,y:(T+30),'font-size':14.5,fill:'#000'},g);
  tt.textContent = p.title;
  
  

  // border
  const bd = mk('rect',{x:L,y:T,width:R-L,height:B-T,fill:'none',stroke:'#000','stroke-width':1.3},g);
  
  

  // x ticks
  const xa = mk('g',{},g);
  
  
  p.xt.forEach((v,i) => {
    const tk = mk('line',{x1:sx(v),x2:sx(v),y1:B,y2:B+3,stroke:'#333','stroke-width':1.1},xa);
    
    
    const tl = mk('text',{x:sx(v),y:B+15,'font-size':9,fill:'#4d4d4d','text-anchor':'middle'},xa);
    tl.textContent = p.xl[i];
    
    
  });
  const xt = mk('text',{x:(L+R)/2,y:B+36,'font-size':13,fill:'#000','text-anchor':'middle'},xa);
  xt.textContent = 'log2 FC';
  
  

  // y ticks
  const ya = mk('g',{},g);
  
  
  p.yt.forEach((v,i) => {
    const tk = mk('line',{x1:L-3,x2:L,y1:sy(v),y2:sy(v),stroke:'#333','stroke-width':1.1},ya);
    
    
    const tl = mk('text',{x:L-6,y:sy(v)+3,'font-size':9,fill:'#4d4d4d','text-anchor':'end'},ya);
    tl.textContent = p.yl[i];
    
    
  });
  const cy = (T+B)/2, cx = L-28;
  const yt = mk('text',{x:cx,y:cy,'font-size':13,fill:'#000','text-anchor':'middle',transform:'rotate(-90 '+cx+' '+cy+')'},ya);
  
  
  const s1 = mk('tspan',{},yt); s1.textContent = '\u2212log';
  const s2 = mk('tspan',{'font-size':9,dy:3}, yt); s2.textContent = '10';
  const s3 = mk('tspan',{dy:-3}, yt); s3.textContent = '(q)';
});
</script>
</body></html>
